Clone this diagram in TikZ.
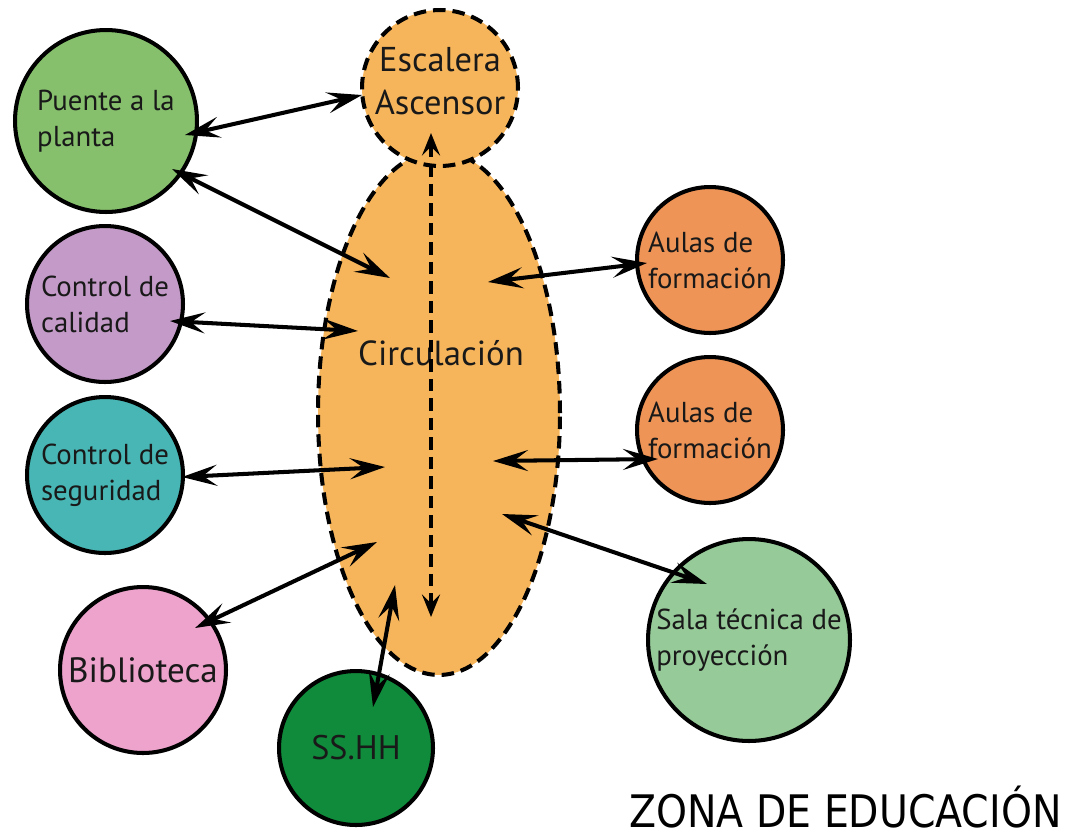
\documentclass[tikz,border=0pt]{standalone}
\usepackage{fontspec}
\setmainfont{PT Sans}
\newfontfamily\titlefont[FakeStretch=0.88]{DejaVu Sans}
\usepackage{xcolor}
\usetikzlibrary{arrows.meta,calc,shapes.geometric}

\definecolor{verdePuente}{RGB}{134,192,108}
\definecolor{naranjaCirc}{RGB}{246,181,91}
\definecolor{moradoCalidad}{RGB}{196,155,200}
\definecolor{tealSeguridad}{RGB}{72,182,180}
\definecolor{rosaBiblio}{RGB}{237,163,203}
\definecolor{verdeSSHH}{RGB}{15,139,59}
\definecolor{naranjaAulas}{RGB}{238,148,86}
\definecolor{verdeSala}{RGB}{150,202,152}

\begin{document}
\begin{tikzpicture}[
  x=0.02cm, y=-0.02cm,
  >={Stealth[length=0.7cm, width=0.42cm, inset=0.28cm]},
  zona/.style={circle, draw=black, line width=2.3pt, inner sep=0pt, align=left,
    text=black!90, font=\fontsize{16.4}{20.5}\selectfont},
  conn/.style={<->, line width=2.3pt},
  trazo/.style={dash pattern=on 0.25cm off 0.14cm}
]
\useasboundingbox (0,0) rectangle (1071,836);

% ==================== CIRCULACION ====================
\node[ellipse, draw=black, fill=naranjaCirc, line width=2.3pt, trazo,
  minimum width=4.84cm, minimum height=10.48cm] (circ) at (439,413) {};
\node[circle, draw=black, fill=naranjaCirc, line width=2.3pt, trazo, inner sep=0pt,
  minimum size=3.12cm] (escalera) at (440,88) {};
\node[align=center, text=black!90, font=\fontsize{19.6}{24.5}\selectfont] (escTxt) at (440,81) {Escalera\\Ascensor};
\node[font=\fontsize{19.8}{24}\selectfont, text=black!90] (circTxt) at (441,353) {Circulación};

% ==================== LEFT ====================
\node[zona, fill=verdePuente, minimum size=3.64cm] (puente) at (106,121) {Puente a la\\planta};
\node[zona, fill=moradoCalidad, minimum size=3.12cm] (calidad) at (105,304) {Control de\\calidad};
\node[zona, fill=tealSeguridad, minimum size=3.12cm] (seguridad) at (105,475) {Control de\\seguridad};
\node[zona, fill=rosaBiblio, minimum size=3.32cm, font=\fontsize{20}{24}\selectfont] (biblio) at (143,670) {Biblioteca};
\node[zona, fill=verdeSSHH, minimum size=3.08cm, font=\fontsize{19.4}{24}\selectfont] (sshh) at (356,748) {SS.HH};

% ==================== RIGHT ====================
\node[zona, fill=naranjaAulas, minimum size=2.92cm] (aulasA) at (710,260) {Aulas de\\formación};
\node[zona, fill=naranjaAulas, minimum size=2.92cm] (aulasB) at (710,430) {Aulas de\\formación};
\node[zona, fill=verdeSala, minimum size=4.04cm] (sala) at (749,640) {Sala técnica de\\proyección};

% ==================== CONNECTORS ====================
\draw[conn] ($(puente.center)+(79,14)$) -- ($(escalera.center)+(-78,7)$);
\draw[conn] ($(puente.center)+(66,48)$) -- ($(circ.center)+(-49,-135)$);
\draw[conn] ($(calidad.center)+(65,17)$) -- ($(circ.center)+(-81,-82)$);
\draw[conn] ($(seguridad.center)+(77,2)$) -- ($(circ.center)+(-54,54)$);
\draw[conn] ($(biblio.center)+(52,-42)$) -- ($(circ.center)+(-62,129)$);
\draw[conn] ($(sshh.center)+(17,-41)$) -- ($(circ.center)+(-44,172)$);
\draw[conn] ($(aulasA.center)+(-63,3)$) -- ($(circ.center)+(49,-131)$);
\draw[conn] ($(aulasB.center)+(-52,29)$) -- ($(circ.center)+(54,48)$);
\draw[conn] ($(sala.center)+(-42,-56)$) -- ($(circ.center)+(63,101)$);

% vertical route
\draw[<->, trazo, line width=2.3pt, >={Stealth[length=0.45cm, width=0.36cm, inset=0.18cm]}]
  ($(circ.center)+(-8,-280)$) -- ($(circ.center)+(-8,204)$);

% ==================== TITLE ====================
\node[anchor=base east, inner sep=0pt, font=\titlefont\fontsize{25.5}{30}\selectfont] (titulo) at (1062,827) {ZONA DE EDUCACIÓN};

\end{tikzpicture}
\end{document}
